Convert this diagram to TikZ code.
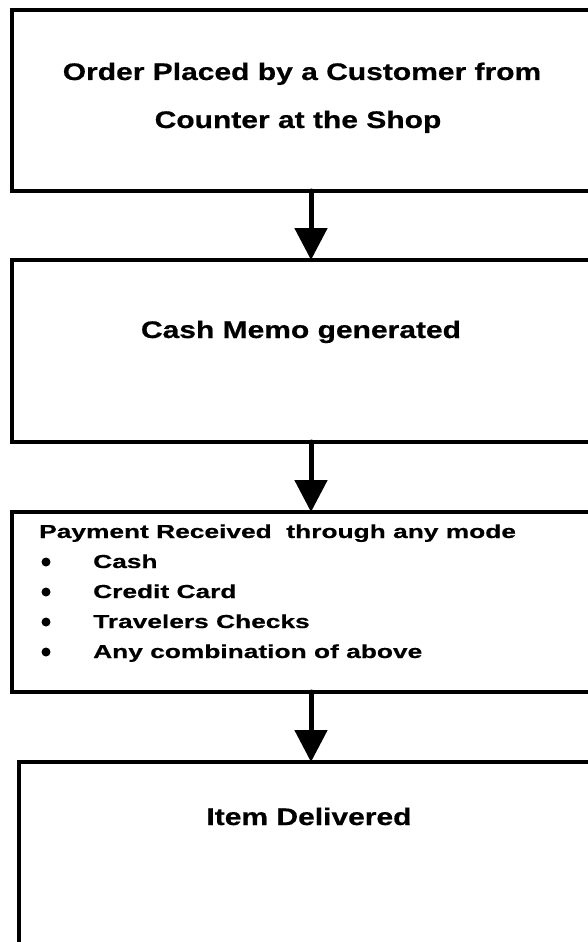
\documentclass[tikz,border=0pt]{standalone}
\usepackage{fontspec}
\setmainfont{Liberation Sans}
\newfontfamily\headfont[FakeStretch=1.25, FakeBold=0.6]{Liberation Sans}
\newfontfamily\listfont[FakeStretch=1.40, FakeBold=0.6]{Liberation Sans}
\usetikzlibrary{arrows.meta}
\tikzset{
  stepbox/.style={draw=black, line width=4.5pt, rectangle, outer sep=0pt, inner sep=0pt},
  flow/.style={line width=5pt, line cap=round, -{Triangle[length=32pt, width=32pt]}},
  bigtext/.style={anchor=base, inner sep=0pt, font=\headfont\bfseries\fontsize{24}{28}\selectfont},
  smalltext/.style={anchor=base west, inner sep=0pt, font=\listfont\bfseries\fontsize{18.8}{22}\selectfont},
  dot/.style={circle, fill=black, inner sep=0pt, minimum size=9pt}
}
\begin{document}
\begin{tikzpicture}[x=1pt, y=-1pt]
  \useasboundingbox (0,0) rectangle (588,942);
  \clip (0,0) rectangle (588,942);
  \fill[white] (0,0) rectangle (588,942);

  % process boxes (right-hand sides run off the sheet)
  \node[stepbox, minimum width=598pt, minimum height=181pt] (b1) at (311,100.5) {};
  \node[stepbox, minimum width=598pt, minimum height=182pt] (b2) at (311,351) {};
  \node[stepbox, minimum width=598pt, minimum height=180pt] (b3) at (311,602) {};
  \node[stepbox, minimum width=591pt, minimum height=200pt] (b4) at (314.5,862) {};

  % texts
  \node[bigtext] (t1a) at (302,80) {Order Placed by a Customer from};
  \node[bigtext] (t1b) at (298,128) {Counter at the Shop};
  \node[bigtext] (t2) at (301,338) {Cash Memo generated};
  \node[smalltext] (t3) at (39,538) {Payment Received\ \ through any mode};
  \node[smalltext] (i1) at (93,568) {Cash};
  \node[smalltext] (i2) at (93,598) {Credit Card};
  \node[smalltext] (i3) at (93,628) {Travelers Checks};
  \node[smalltext] (i4) at (93,658) {Any combination of above};
  \node[dot] (d1) at (46,562) {};
  \node[dot] (d2) at (46,592) {};
  \node[dot] (d3) at (46,622) {};
  \node[dot] (d4) at (46,652) {};
  \node[bigtext] (t4) at (309,825) {Item Delivered};

  % connectors
  \draw[flow] (b1.south) -- (b2.north);
  \draw[flow] (b2.south) -- (b3.north);
  \draw[flow] (b3.south) -- (b3.south |- b4.north);
\end{tikzpicture}
\end{document}
